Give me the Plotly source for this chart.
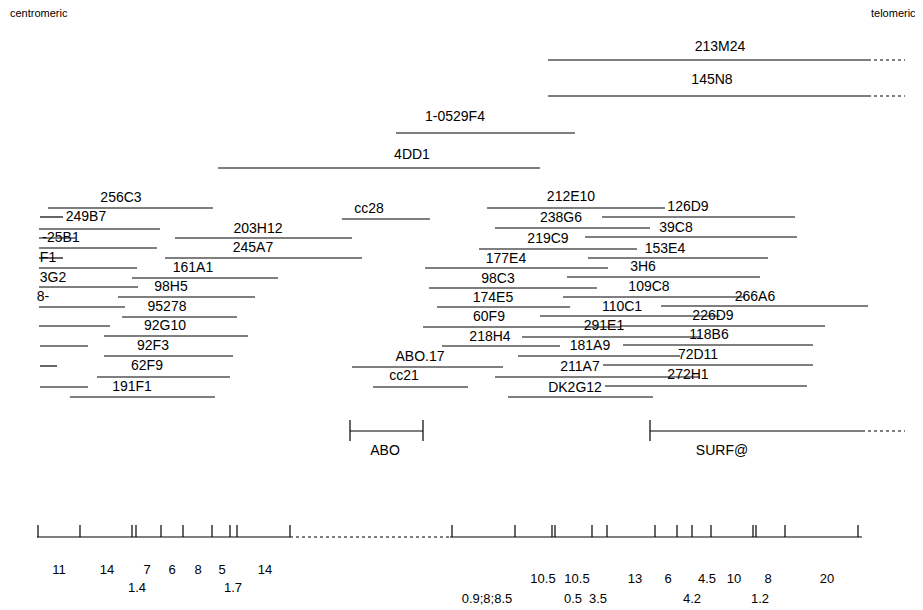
import plotly.graph_objects as go

# ---- clone segments: start, end, track (map units) ----
seg_start = [548, 548, 396, 218,
             48, 40, 39, 39, 175, 39, 165, 39, 39, 132, 39, 118, 39, 122, 39, 104, 40, 104, 40, 97, 40, 70,
             342, 352, 373,
             487, 602, 495, 585, 479, 588, 425, 567, 429, 563, 437, 661, 540, 423, 620, 522, 442, 623,
             518, 603, 495, 605, 508]
seg_end = [868, 868, 575, 540,
           213, 63, 160, 76, 352, 157, 362, 63, 137, 278, 138, 255, 125, 237, 110, 248, 88, 233, 57, 230, 88, 215,
           430, 503, 468,
           665, 795, 650, 797, 637, 768, 608, 760, 597, 745, 570, 868, 720, 620, 825, 700, 560, 813,
           680, 813, 700, 807, 653]
seg_track = [60, 96, 133, 168,
             208, 217, 229, 238, 238, 248, 258, 258, 268, 278, 287, 297, 307, 317, 326, 336, 346, 356, 366, 377, 387, 397,
             219, 367, 387,
             208, 217, 228, 237, 249, 258, 268, 277, 288, 297, 307, 306, 316, 327, 326, 337, 346, 345,
             356, 365, 377, 386, 397]

# dotted (unresolved) extensions
dot_start = [868, 868, 862, 290]
dot_end = [905, 905, 905, 450]
dot_track = [60, 96, 431, 537]

# ---- clone labels ----
lab_text = ["213M24", "145N8", "1-0529F4", "4DD1",
            "256C3", "249B7", "-25B1", "F1", "3G2", "8-", "203H12", "245A7", "161A1", "98H5", "95278",
            "92G10", "92F3", "62F9", "191F1",
            "cc28", "ABO.17", "cc21",
            "212E10", "238G6", "219C9", "177E4", "98C3", "174E5", "60F9", "218H4",
            "126D9", "39C8", "153E4", "3H6", "109C8", "266A6", "110C1", "226D9", "291E1", "118B6",
            "181A9", "72D11", "211A7", "272H1", "DK2G12",
            "ABO", "SURF@"]
lab_x = [720, 712, 455, 412,
         121, 86, 61, 48, 53, 43, 258, 253, 193, 171, 167,
         165, 153, 147, 132,
         369, 420, 404,
         571, 561, 548, 506, 498, 493, 489, 490,
         688, 676, 665, 643, 649, 755, 622, 713, 604, 709,
         590, 698, 580, 688, 575,
         385, 722]
lab_track = [47, 80, 117, 155,
             198, 217, 238, 258, 278, 297, 229, 248, 268, 287, 307,
             326, 346, 366, 387,
             209, 357, 376,
             197, 218, 239, 259, 279, 298, 317, 337,
             207, 228, 249, 267, 287, 297, 307, 316, 326, 335,
             346, 355, 367, 375, 388,
             451, 451]

# ---- locus brackets ----
bracket_x = [350, 423, 650]
bracket_line = [(350, 423), (650, 862)]

# ---- restriction map ----
map_ticks = [38, 80, 132, 136, 161, 183, 212, 230, 237, 290, 452,
             515, 552, 555, 592, 607, 655, 677, 692, 711, 753, 756, 785, 858]
map_solid = [(37, 290), (450, 862)]
frag_row1 = ["11", "14", "7", "6", "8", "5", "14"]
frag_row1_x = [59, 107, 147, 172, 198, 222, 265]
frag_row2 = ["1.4", "1.7"]
frag_row2_x = [137, 233]
frag_row3 = ["10.5", "10.5", "13", "6", "4.5", "10", "8", "20"]
frag_row3_x = [543, 577, 635, 668, 707, 734, 768, 827]
frag_row4 = ["0.9;8;8.5", "0.5", "3.5", "4.2", "1.2"]
frag_row4_x = [487, 573, 598, 692, 760]

FONT = "Liberation Sans, Arial, sans-serif"
PAGE_OFFSET = 8  # default page margin of the html body

fig = go.Figure()

def seglist(starts, ends, ys):
    xs, yy = [], []
    for a, b, y in zip(starts, ends, ys):
        xs += [a, b, None]
        yy += [y, y, None]
    return xs, yy

xs, ys = seglist(seg_start, seg_end, seg_track)
for a, b in bracket_line:
    xs += [a, b, None]; ys += [431, 431, None]
for bx in bracket_x:
    xs += [bx, bx, None]; ys += [420, 441, None]
for a, b in map_solid:
    xs += [a, b, None]; ys += [537, 537, None]
for t in map_ticks:
    xs += [t, t, None]; ys += [525, 537, None]

fig.add_trace(go.Scatter(x=xs, y=ys, mode="lines", line=dict(color="black", width=1.2),
                         hoverinfo="skip", showlegend=False))

dx, dy = seglist(dot_start, dot_end, dot_track)
fig.add_trace(go.Scatter(x=dx, y=dy, mode="lines", line=dict(color="black", width=1.1, dash="dot"),
                         hoverinfo="skip", showlegend=False))

fig.add_trace(go.Scatter(x=lab_x, y=lab_track, mode="text", text=lab_text,
                         textfont=dict(family=FONT, size=14, color="black"),
                         textposition="middle center", hoverinfo="skip", showlegend=False))

for texts, xs_, y in [(frag_row1, frag_row1_x, 571), (frag_row2, frag_row2_x, 589),
                      (frag_row3, frag_row3_x, 580), (frag_row4, frag_row4_x, 600)]:
    fig.add_trace(go.Scatter(x=xs_, y=[y] * len(xs_), mode="text", text=texts,
                             textfont=dict(family=FONT, size=13, color="black"),
                             textposition="middle center", hoverinfo="skip", showlegend=False))

fig.add_annotation(x=0, xref="paper", y=13, text="centromeric", showarrow=False, xanchor="left",
                   font=dict(family=FONT, size=11, color="black"))
fig.add_annotation(x=918, y=13, text="telomeric", showarrow=False, xanchor="right",
                   font=dict(family=FONT, size=11, color="black"))

W, H = 923, 610
fig.update_layout(width=W - PAGE_OFFSET, height=H - PAGE_OFFSET,
                  margin=dict(l=0, r=0, t=0, b=0),
                  paper_bgcolor="white", plot_bgcolor="white",
                  xaxis=dict(range=[PAGE_OFFSET, W], visible=False, fixedrange=True),
                  yaxis=dict(range=[H, PAGE_OFFSET], visible=False, fixedrange=True))

fig.write_html("out.html")
